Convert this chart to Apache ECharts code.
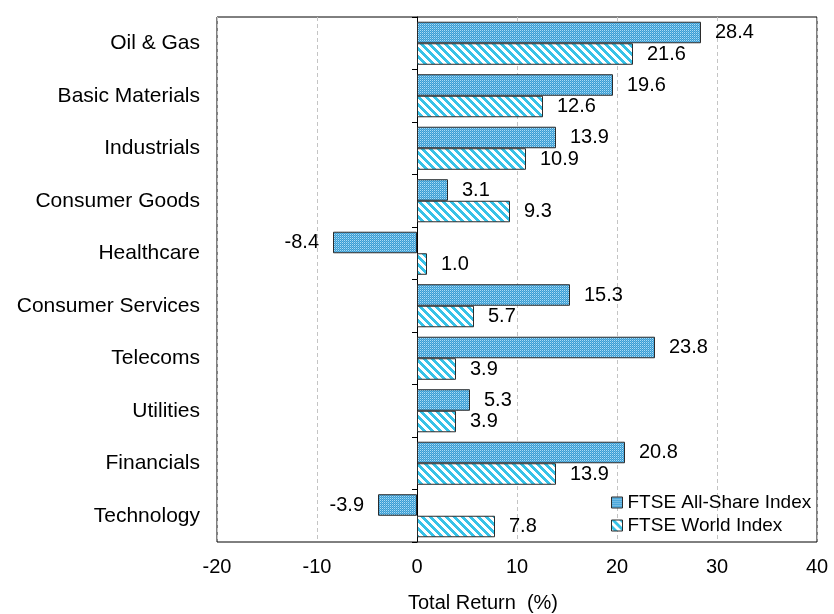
<!DOCTYPE html>
<html>
<head>
<meta charset="utf-8">
<script src="https://cdn.jsdelivr.net/npm/echarts@6/dist/echarts.min.js"></script>
<style>
  html, body { margin: 0; padding: 0; background: #fff; }
  #chart { width: 834px; height: 614px; }
</style>
</head>
<body>
<div id="chart"></div>
<script>
// Sector total returns, FTSE All-Share vs FTSE World
const sectors = ['Oil & Gas', 'Basic Materials', 'Industrials', 'Consumer Goods', 'Healthcare',
  'Consumer Services', 'Telecoms', 'Utilities', 'Financials', 'Technology'];
const allShare = [28.4, 19.6, 13.9, 3.1, -8.4, 15.3, 23.8, 5.3, 20.8, -3.9];
const world = [21.6, 12.6, 10.9, 9.3, 1.0, 5.7, 3.9, 3.9, 13.9, 7.8];
const seriesNames = ['FTSE All-Share Index', 'FTSE World Index'];
const xTicks = { min: -20, max: 40, step: 10 };
const axisTitle = 'Total Return  (%)';

const FONT = 'Liberation Sans, Arial, sans-serif';

// Fine blue checker fill
function checkerPattern() {
  const c = document.createElement('canvas');
  c.width = 2; c.height = 2;
  const g = c.getContext('2d');
  g.fillStyle = '#3d9bd2'; g.fillRect(0, 0, 2, 2);
  g.fillStyle = '#a9def6'; g.fillRect(0, 0, 1, 1);
  g.fillStyle = '#62b8e4'; g.fillRect(1, 1, 1, 1);
  return c;
}
// Cyan diagonal hatching running top-left to bottom-right
function hatchPattern() {
  const n = 8;
  const c = document.createElement('canvas');
  c.width = n; c.height = n;
  const g = c.getContext('2d');
  g.fillStyle = '#ffffff'; g.fillRect(0, 0, n, n);
  g.fillStyle = '#36c2e8';
  for (let y = 0; y < n; y++) {
    for (let x = 0; x < n; x++) {
      if (((x - y) % n + n) % n < 4) g.fillRect(x, y, 1, 1);
    }
  }
  return c;
}

function toData(values) {
  return values.map(v => ({
    value: v,
    label: { position: v < 0 ? 'left' : 'right' }
  }));
}

const chart = echarts.init(document.getElementById('chart'));
const barStyle = (img) => ({
  color: { image: img, repeat: 'repeat' },
  borderColor: '#2b2b2b',
  borderWidth: 1
});
const labelStyle = {
  show: true,
  distance: 14,
  fontSize: 20,
  fontFamily: FONT,
  color: '#000',
  formatter: p => p.value.toFixed(1)
};

chart.setOption({
  animation: false,
  backgroundColor: '#fff',
  grid: {
    left: 217, top: 17, width: 600, height: 525,
    show: true, borderColor: '#000', borderWidth: 1,
    containLabel: false
  },
  legend: {
    orient: 'vertical',
    left: 606, top: 488,
    icon: 'rect',
    itemWidth: 11, itemHeight: 11, itemGap: 4,
    itemStyle: { borderColor: '#2b2b2b', borderWidth: 1 },
    textStyle: { fontSize: 19, fontFamily: FONT, color: '#000' },
    data: seriesNames
  },
  xAxis: {
    type: 'value',
    min: xTicks.min, max: xTicks.max, interval: xTicks.step,
    axisLine: { show: false },
    axisTick: { show: false },
    axisLabel: { fontSize: 20, fontFamily: FONT, color: '#000', margin: 15 },
    splitLine: { show: true, lineStyle: { color: '#c4c4c4', type: [4, 3], width: 1 } }
  },
  yAxis: [
    {
      type: 'category',
      data: sectors,
      inverse: true,
      axisLine: { show: false, onZero: false },
      axisTick: { show: false },
      axisLabel: { fontSize: 21, fontFamily: FONT, color: '#000', margin: 17 },
      splitLine: { show: false }
    },
    {
      type: 'category',
      data: sectors,
      inverse: true,
      position: 'left',
      axisLine: { show: true, onZero: true, lineStyle: { color: '#000', width: 1 } },
      axisTick: { show: true, inside: false, length: 5, lineStyle: { color: '#000' } },
      axisLabel: { show: false },
      splitLine: { show: false }
    }
  ],
  series: [
    {
      name: seriesNames[0],
      type: 'bar',
      yAxisIndex: 0,
      data: toData(allShare),
      barGap: '0%',
      barCategoryGap: '18%',
      itemStyle: barStyle(checkerPattern()),
      label: labelStyle
    },
    {
      name: seriesNames[1],
      type: 'bar',
      yAxisIndex: 0,
      data: toData(world),
      barGap: '0%',
      barCategoryGap: '18%',
      itemStyle: barStyle(hatchPattern()),
      label: labelStyle
    }
  ],
  graphic: [
    {
      type: 'text',
      x: 483, y: 603,
      style: {
        text: axisTitle, fontSize: 20, fontFamily: FONT, fill: '#000',
        align: 'center', verticalAlign: 'middle'
      }
    }
  ]
});
</script>
</body>
</html>
